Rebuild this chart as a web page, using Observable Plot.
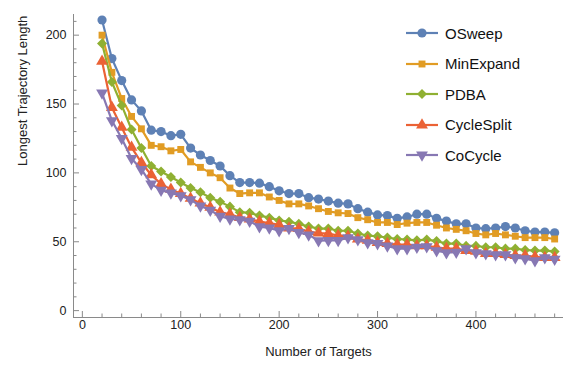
<!DOCTYPE html>
<html><head><meta charset="utf-8">
<script src="https://cdn.jsdelivr.net/npm/d3@7"></script>
<script src="https://cdn.jsdelivr.net/npm/@observablehq/plot@0.6"></script>
<style>
body{margin:0;background:#fff;}
#wrap{position:relative;width:571px;height:368px;font-family:"Liberation Sans",Arial,sans-serif;}
.row{position:absolute;display:flex;align-items:center;height:20px;font-size:15px;color:#111;white-space:nowrap;}
.row svg{display:block;}
.row span{margin-left:6px;}
</style></head>
<body><div id="wrap"></div>
<script>
const targets = [20,30,40,50,60,70,80,90,100,110,120,130,140,150,160,170,180,190,200,210,220,230,240,250,260,270,280,290,300,310,320,330,340,350,360,370,380,390,400,410,420,430,440,450,460,470,480];
const seriesNames = ["OSweep","MinExpand","PDBA","CycleSplit","CoCycle"];
const seriesColors = ["#5E81B5","#E19C24","#8FB032","#EB6235","#8778B3"];
const oSweep = [211,183,167,153,145,131,130,127,128,118,113,109,105,98,93,93,92.5,90,87,85,85,82,81,79.5,78,77.5,74,71.5,69.5,69,67,68,70,70,67,65,63,63,60,59.5,60,61,60,58,57,57,56.5];
const minExpand = [200,173,154,141,132,120,119,116,117,108,104,100,96.5,89,85,85.5,85.5,82.5,80,77.5,77.5,76,74,72,71,70.5,67.5,66,64,64,62.5,63.5,64,64,62,60,59,58,56,55,56,55,54,53,53,53,52];
const pdba = [194,166,149,131.5,118,105,101,97,93,89,86,82,79,75.5,71.5,71,69,67.5,65.5,64.5,63,61,59.6,59.6,58,58,56,54.5,54,53,52,51.6,51,51.6,50.5,48.7,48.7,47,47,46,46,45,45,44,43.6,43.6,43];
const cycleSplit = [181,147.5,133,118.5,107.5,98.5,92,88,85,81.5,78,75,71.5,70,67.5,66.5,64.7,63.5,62.2,60,59.6,57.4,56.3,56,54.5,54,52,51,49.4,48.7,48,48,47,47,46,45,45,43.6,43,41.4,41.4,40.7,40,40,39,38.5,38.5];
const coCycle = [158,138,125,110.5,102.5,92,87.5,85.5,83.5,80.5,76,73,68.5,66.5,66,65,61,60,58,59.6,56.7,55,50.8,51,51,53,51.6,49.4,48.7,47,45,45,46,46.5,43.6,42,42.5,45,42,41.4,40.7,40.7,38.5,37.8,36.3,38.5,37.4];
const xMajorTicks = [0,100,200,300,400];
const xMinorTicks = [20,40,60,80,120,140,160,180,220,240,260,280,320,340,360,380,420,440,460,480];
const yMajorTicks = [0,50,100,150,200];
const yMinorTicks = [10,20,30,40,60,70,80,90,110,120,130,140,160,170,180,190,210];
const xTitle = "Number of Targets";
const yTitle = "Longest Trajectory Length";

const seriesValues = [oSweep, minExpand, pdba, cycleSplit, coCycle];

const symCircle = {draw(c, s){ const r = Math.sqrt(s/Math.PI); c.moveTo(r,0); c.arc(0,0,r,0,2*Math.PI); }};
const symSquare = {draw(c, s){ const h = Math.sqrt(s)/2; c.rect(-h,-h,2*h,2*h); }};
const symDiamond = {draw(c, s){ const h = Math.sqrt(s/2); c.moveTo(0,-h); c.lineTo(h,0); c.lineTo(0,h); c.lineTo(-h,0); c.closePath(); }};
const symTriUp = {draw(c, s){ const a = Math.sqrt(s/(3*Math.sqrt(3))); c.moveTo(0,-2*a); c.lineTo(Math.sqrt(3)*a,a); c.lineTo(-Math.sqrt(3)*a,a); c.closePath(); }};
const symTriDown = {draw(c, s){ const a = Math.sqrt(s/(3*Math.sqrt(3))); c.moveTo(0,2*a); c.lineTo(Math.sqrt(3)*a,-a); c.lineTo(-Math.sqrt(3)*a,-a); c.closePath(); }};
const symbols = [symCircle, symSquare, symDiamond, symTriUp, symTriDown];
const radii = [4.6, 3.9, 4.0, 4.4, 4.4];

const rows = [];
seriesNames.forEach((name, i) => targets.forEach((t, j) => rows.push({series: name, idx: i, x: t, y: seriesValues[i][j]})));

const axisColor = "#8a8a8a";
const marks = [
  Plot.ruleX([-9], {stroke: axisColor, strokeWidth: 1}),
  Plot.ruleY([-5], {stroke: axisColor, strokeWidth: 1}),
  Plot.axisX(xMajorTicks, {tickSize: -6, tickFormat: () => "", label: null, stroke: axisColor}),
  Plot.axisX(xMinorTicks, {tickSize: -3.5, tickFormat: () => "", label: null, stroke: axisColor}),
  Plot.axisY(yMajorTicks, {tickSize: -6, tickFormat: () => "", label: null, stroke: axisColor}),
  Plot.axisY(yMinorTicks, {tickSize: -3.5, tickFormat: () => "", label: null, stroke: axisColor}),
  Plot.axisX(xMajorTicks, {tickSize: 0, tickPadding: 3, label: null, fill: "#222", fontSize: 12.5}),
  Plot.axisY(yMajorTicks, {tickSize: 0, tickPadding: 7, label: null, fill: "#222", fontSize: 12.5}),
  Plot.text([xTitle], {frameAnchor: "bottom", dy: 38, fontSize: 13, fill: "#222"}),
  Plot.text([yTitle], {frameAnchor: "left", rotate: -90, dx: -51, fontSize: 13, fill: "#222"})
];
seriesNames.forEach((name, i) => {
  const d = rows.filter(r => r.idx === i);
  marks.push(Plot.line(d, {x: "x", y: "y", stroke: seriesColors[i], strokeWidth: 2.2}));
  marks.push(Plot.dot(d, {x: "x", y: "y", fill: seriesColors[i], stroke: "none", symbol: symbols[i], r: radii[i]}));
});

const chart = Plot.plot({
  width: 571, height: 368,
  marginLeft: 73, marginRight: 8, marginTop: 14, marginBottom: 51,
  x: {domain: [-9, 489], axis: null},
  y: {domain: [-5, 215], axis: null},
  style: {fontFamily: '"Liberation Sans", Arial, sans-serif', background: "#fff", overflow: "visible"},
  marks
});
const wrap = document.getElementById("wrap");
wrap.appendChild(chart);

const legendCenters = [33, 63.5, 94, 124.5, 155];
seriesNames.forEach((name, i) => {
  const row = document.createElement("div");
  row.className = "row";
  row.style.left = "405px";
  row.style.top = (legendCenters[i] - 10) + "px";
  const svg = d3.create("svg").attr("width", 34).attr("height", 20);
  svg.append("line").attr("x1", 1).attr("x2", 33).attr("y1", 10).attr("y2", 10).attr("stroke", seriesColors[i]).attr("stroke-width", 2.2);
  const r = radii[i];
  svg.append("path").attr("transform", "translate(17,10)").attr("fill", seriesColors[i]).attr("d", d3.symbol(symbols[i], Math.PI * r * r)());
  row.appendChild(svg.node());
  const span = document.createElement("span");
  span.textContent = name;
  row.appendChild(span);
  wrap.appendChild(row);
});
</script>
</body></html>
